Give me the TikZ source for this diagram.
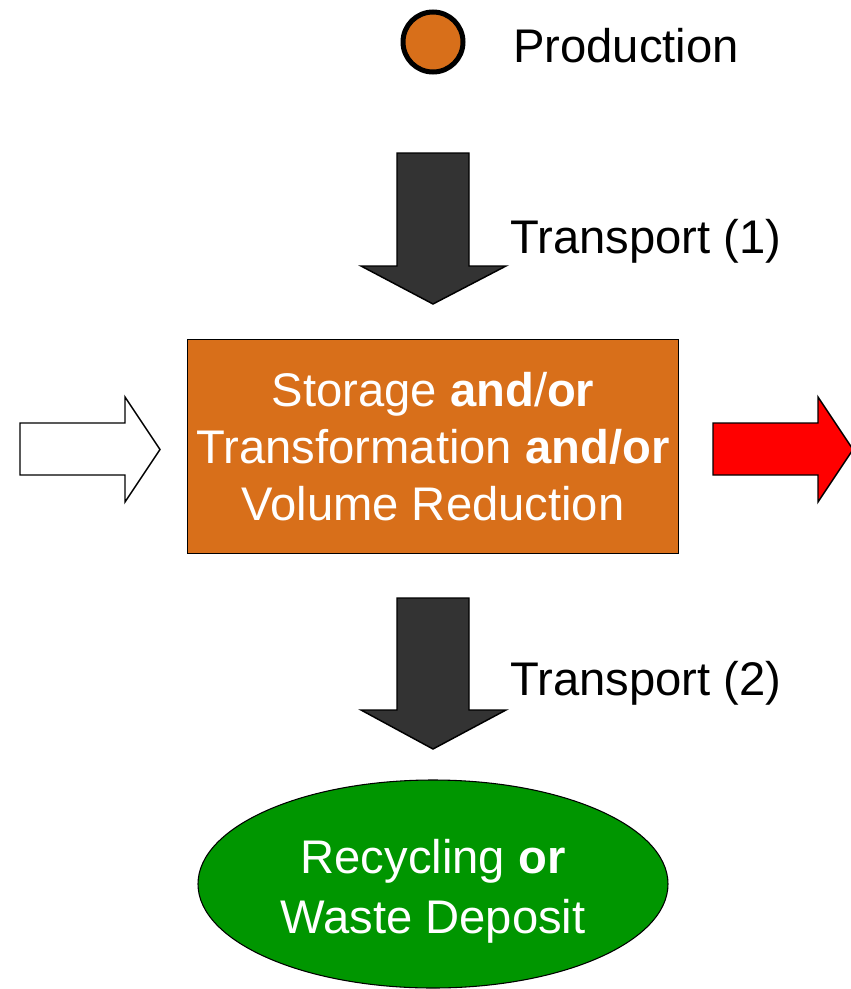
\documentclass[tikz,border=0pt]{standalone}
\usepackage{fontspec}
\setmainfont{Liberation Sans}
\usetikzlibrary{shapes.geometric}
\definecolor{carrot}{RGB}{216, 111, 26}
\definecolor{forest}{RGB}{0, 150, 0}
\definecolor{charcoal}{RGB}{51, 51, 51}
\definecolor{signalred}{RGB}{255, 0, 0}

\begin{document}
\begin{tikzpicture}[x=0.75pt, y=-0.75pt,
        bigtext/.style={font=\fontsize{35.4}{42.75}\selectfont, inner sep=0pt},
        blockarrow/.style={draw=black, line width=1.1pt, line join=miter}]
            \useasboundingbox (0,0) rectangle (850,989);

            % legend
            \node[circle, draw=black, fill=carrot, line width=3.75pt, minimum size=45pt, inner sep=0pt] (dot) at (433,42) {};
            \node[bigtext, anchor=base west] (prod) at (513,62) {Production};

            % transport (1)
            \filldraw[blockarrow, fill=charcoal] (397,153) -- (469,153) -- (469,266) -- (506,266) -- (433,304) -- (361,266) -- (397,266) -- cycle;
            \node[bigtext, anchor=base west] (tr1) at (510,253) {Transport (1)};

            % storage box
            \node[draw=black, fill=carrot, line width=0.8pt, minimum width=368.25pt, minimum height=160.5pt,
                  bigtext, text=white, align=center] (store) at (433,446.5)
                  {Storage \textbf{and}/\textbf{or}\\Transformation \textbf{and/or}\\Volume Reduction};

            % side arrows
            \filldraw[blockarrow, fill=white]     ( 20,423) -- (125,423) -- (125,397) -- (160,449.5) -- (125,502) -- (125,475) -- ( 20,475) -- cycle;
            \filldraw[blockarrow, fill=signalred] (713,423) -- (818,423) -- (818,397) -- (853,449.5) -- (818,502) -- (818,475) -- (713,475) -- cycle;

            % transport (2)
            \filldraw[blockarrow, fill=charcoal] (397,598) -- (469,598) -- (469,710) -- (506,710) -- (433,749) -- (361,710) -- (397,710) -- cycle;
            \node[bigtext, anchor=base west] (tr2) at (510,695) {Transport (2)};

            % destination
            \node[ellipse, draw=black, fill=forest, line width=0.8pt, minimum width=352.5pt, minimum height=156pt,
                  font=\fontsize{35.4}{45}\selectfont, text=white, align=center, inner sep=0pt] (deposit) at (433,884)
                  {\rule{0pt}{36pt}Recycling \textbf{or}\\Waste Deposit};
        \end{tikzpicture}
\end{document}
